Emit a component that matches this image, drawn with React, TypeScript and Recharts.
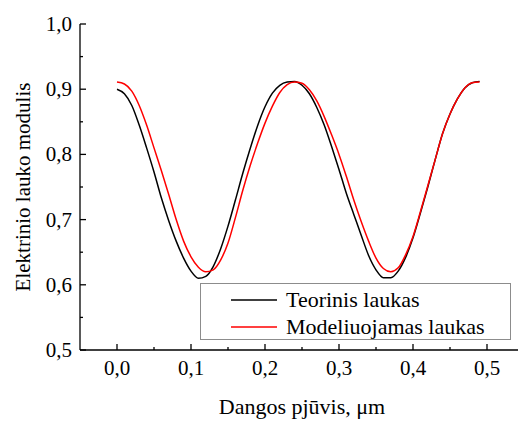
import React from 'react';
import { LineChart, Line, XAxis, YAxis, Legend } from 'recharts';

// x positions along the cut, µm
const xValues = [
  0, 0.01, 0.02, 0.03, 0.04, 0.05, 0.06, 0.07, 0.08, 0.09,
  0.1, 0.11, 0.12, 0.13, 0.14, 0.15, 0.16, 0.17, 0.18, 0.19,
  0.2, 0.21, 0.22, 0.23, 0.24, 0.25, 0.26, 0.27, 0.28, 0.29,
  0.3, 0.31, 0.32, 0.33, 0.34, 0.35, 0.36, 0.37, 0.38, 0.39,
  0.4, 0.41, 0.42, 0.43, 0.44, 0.45, 0.46, 0.47, 0.48, 0.49,
];

const teorinis = [
  0.900, 0.893, 0.875, 0.845, 0.810, 0.773, 0.733, 0.698, 0.667, 0.641,
  0.621, 0.610, 0.613, 0.628, 0.655, 0.690, 0.730, 0.771, 0.809, 0.844,
  0.873, 0.894, 0.906, 0.911, 0.912, 0.906, 0.893, 0.872, 0.845, 0.812,
  0.777, 0.740, 0.708, 0.676, 0.645, 0.623, 0.611, 0.611, 0.621, 0.642,
  0.672, 0.710, 0.750, 0.792, 0.832, 0.862, 0.885, 0.902, 0.910, 0.912,
];

const modeliuojamas = [
  0.911, 0.908, 0.897, 0.875, 0.845, 0.810, 0.775, 0.738, 0.700, 0.667,
  0.643, 0.627, 0.620, 0.623, 0.638, 0.664, 0.703, 0.745, 0.783, 0.817,
  0.848, 0.874, 0.895, 0.907, 0.911, 0.909, 0.899, 0.882, 0.858, 0.830,
  0.800, 0.766, 0.730, 0.697, 0.667, 0.641, 0.625, 0.620, 0.626, 0.646,
  0.674, 0.712, 0.752, 0.792, 0.832, 0.862, 0.885, 0.902, 0.910, 0.911,
];

const seriesNames = ['Teorinis laukas', 'Modeliuojamas laukas'];

const xTicks = [0, 0.05, 0.1, 0.15, 0.2, 0.25, 0.3, 0.35, 0.4, 0.45, 0.5];
const yTicks = [0.5, 0.55, 0.6, 0.65, 0.7, 0.75, 0.8, 0.85, 0.9, 0.95, 1.0];

const data = xValues.map((x, i) => ({ x, teorinis: teorinis[i], modeliuojamas: modeliuojamas[i] }));

const FONT = "'Times New Roman', Times, 'Liberation Serif', 'DejaVu Serif', 'Noto Serif', serif";
const MAJOR = 6;
const MINOR = 3;

const isMajor = (v: number) => Math.abs(v * 10 - Math.round(v * 10)) < 1e-6;
const fmt = (v: number) => v.toFixed(1).replace('.', ',');

const BottomTick = ({ x, y, payload }: any) => {
  const major = isMajor(payload.value);
  return (
    <g>
      <line x1={x} y1={y} x2={x} y2={y - (major ? MAJOR : MINOR)} stroke="#000" strokeWidth={1.3} />
      {major && (
        <text x={x} y={y + 25} textAnchor="middle" fontSize={21} fontFamily={FONT} fill="#000">
          {fmt(payload.value)}
        </text>
      )}
    </g>
  );
};

const TopTick = ({ x, y, payload }: any) => (
  <line x1={x} y1={y} x2={x} y2={y + (isMajor(payload.value) ? MAJOR : MINOR)} stroke="#000" strokeWidth={1.3} />
);

const LeftTick = ({ x, y, payload }: any) => {
  const major = isMajor(payload.value);
  return (
    <g>
      <line x1={x} y1={y} x2={x + (major ? MAJOR : MINOR)} y2={y} stroke="#000" strokeWidth={1.3} />
      {major && (
        <text x={x - 8} y={y + 7} textAnchor="end" fontSize={21} fontFamily={FONT} fill="#000">
          {fmt(payload.value)}
        </text>
      )}
    </g>
  );
};

const RightTick = ({ x, y, payload }: any) => (
  <line x1={x} y1={y} x2={x - (isMajor(payload.value) ? MAJOR : MINOR)} y2={y} stroke="#000" strokeWidth={1.3} />
);

const renderLegend = (props: any) => {
  const items = [...(props.payload || [])].sort(
    (a: any, b: any) => seriesNames.indexOf(a.value) - seriesNames.indexOf(b.value)
  );
  return (
    <div
      style={{
        position: 'relative',
        width: 311,
        height: 57,
        boxSizing: 'border-box',
        border: '1px solid #8c8c8c',
        background: '#fff',
        fontFamily: FONT,
        fontSize: 22,
      }}
    >
      {items.map((entry: any, i: number) => (
        <div
          key={i}
          style={{
            position: 'absolute',
            left: 30,
            top: 4 + i * 27.4,
            height: 24,
            lineHeight: '24px',
            display: 'flex',
            alignItems: 'center',
            whiteSpace: 'nowrap',
            color: '#000',
          }}
        >
          <svg width={46} height={4} style={{ marginRight: 9 }}>
            <line x1={0} y1={2} x2={46} y2={2} stroke={entry.color} strokeWidth={1.5} />
          </svg>
          <span>{entry.value}</span>
        </div>
      ))}
    </div>
  );
};

export default function App() {
  return (
    <div style={{ position: 'absolute', left: 0, top: 0, width: 518, height: 421, overflow: 'hidden', background: '#fff', fontFamily: FONT }}>
      <LineChart width={530} height={421} data={data} margin={{ top: 24, right: 6, bottom: 0, left: 0 }}>
        <XAxis
          xAxisId="bottom"
          dataKey="x"
          type="number"
          domain={[-0.05, 0.55]}
          ticks={xTicks}
          tick={BottomTick}
          tickLine={false}
          tickSize={0}
          tickMargin={0}
          height={71}
          axisLine={{ stroke: '#000', strokeWidth: 1.3 }}
          interval={0}
          allowDataOverflow
        />
        <XAxis
          xAxisId="top"
          orientation="top"
          dataKey="x"
          type="number"
          domain={[-0.05, 0.55]}
          ticks={xTicks}
          tick={TopTick}
          tickLine={false}
          tickSize={0}
          tickMargin={0}
          height={0}
          axisLine={{ stroke: '#000', strokeWidth: 1.3 }}
          interval={0}
          allowDataOverflow
        />
        <YAxis
          yAxisId="left"
          type="number"
          domain={[0.5, 1.0]}
          ticks={yTicks}
          tick={LeftTick}
          tickLine={false}
          tickSize={0}
          tickMargin={0}
          width={80}
          axisLine={{ stroke: '#000', strokeWidth: 1.3 }}
          interval={0}
          allowDataOverflow
        />
        <YAxis
          yAxisId="right"
          orientation="right"
          type="number"
          domain={[0.5, 1.0]}
          ticks={yTicks}
          tick={RightTick}
          tickLine={false}
          tickSize={0}
          tickMargin={0}
          width={0}
          axisLine={{ stroke: '#000', strokeWidth: 1.3 }}
          interval={0}
          allowDataOverflow
        />
        <Line
          xAxisId="bottom"
          yAxisId="left"
          type="monotone"
          dataKey="teorinis"
          name={seriesNames[0]}
          stroke="#000000"
          strokeWidth={1.5}
          dot={false}
          isAnimationActive={false}
        />
        <Line
          xAxisId="bottom"
          yAxisId="left"
          type="monotone"
          dataKey="modeliuojamas"
          name={seriesNames[1]}
          stroke="#ff0000"
          strokeWidth={1.5}
          dot={false}
          isAnimationActive={false}
        />
        <Legend
          layout="vertical"
          align="center"
          verticalAlign="middle"
          content={renderLegend}
          wrapperStyle={{ position: 'absolute', left: 200, top: 283, width: 311, height: 57 }}
        />
        <text x={302} y={414} textAnchor="middle" fontSize={22} fontFamily={FONT} fill="#000">
          Dangos pjūvis, μm
        </text>
        <text
          x={23}
          y={187}
          transform="rotate(-90 23 187)"
          textAnchor="middle"
          dominantBaseline="central"
          fontSize={21}
          fontFamily={FONT}
          fill="#000"
        >
          Elektrinio lauko modulis
        </text>
      </LineChart>
    </div>
  );
}
